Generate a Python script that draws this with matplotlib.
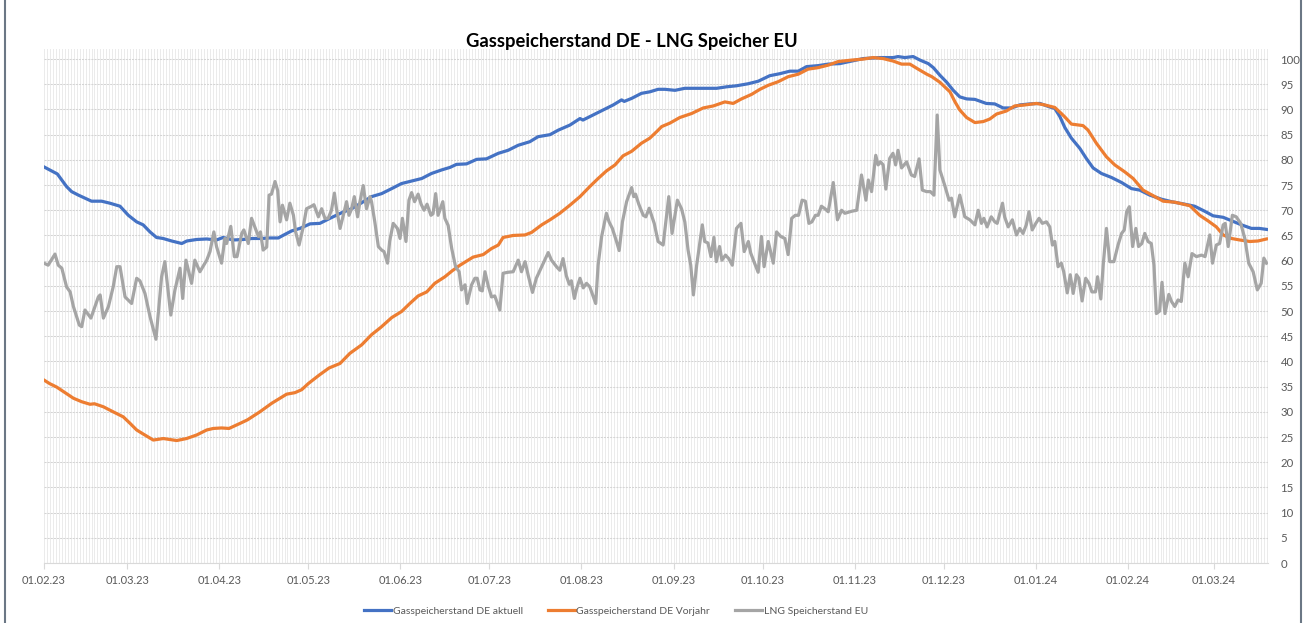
import matplotlib
matplotlib.use('Agg')
import matplotlib.pyplot as plt
import matplotlib.dates as mdates
import pandas as pd
from matplotlib.lines import Line2D

plt.rcParams['font.family'] = ['Lato', 'DejaVu Sans']

# ---------------- data ----------------
start_date = '2023-02-01'
axis_end_day = 412.2

title = 'Gasspeicherstand DE - LNG Speicher EU'
series_names = ['Gasspeicherstand DE aktuell', 'Gasspeicherstand DE Vorjahr', 'LNG Speicherstand EU']
x_tick_labels = ['01.02.23', '01.03.23', '01.04.23', '01.05.23', '01.06.23', '01.07.23', '01.08.23',
                 '01.09.23', '01.10.23', '01.11.23', '01.12.23', '01.01.24', '01.02.24', '01.03.24']
y_ticks = list(range(0, 101, 5))

# Gasspeicherstand DE aktuell (day offset from start, value)
blue_days = [0, 1.9, 4.5, 6, 7.6, 9.3, 11.6, 13.8, 16, 19.4, 22.2, 25.6, 28.4, 31.2, 33.4, 35.7, 37.9, 40.1,
             43, 46.4, 48.1, 51.4, 54.8, 58.1, 60.3, 63.7, 67.1, 70, 73.3, 76, 78.9, 81.1, 83.4, 86.2, 89.6,
             92.9, 96.3, 100.2, 103.6, 107, 110.3, 113.7, 117.1, 120.4, 123.8, 127.2, 130.5, 133.9, 136.7,
             138.9, 142.3, 145.7, 149, 153, 156.3, 159.7, 163.6, 166.4, 170.4, 173.2, 177.1, 180.5, 181.5,
             184.9, 188.3, 191.7, 194.5, 195.4, 197.9, 201.2, 204, 206.8, 209.1, 212.5, 215.8, 222.6, 226.5,
             229.9, 233.2, 237.1, 240.5, 244.4, 247.8, 251.2, 254, 256.8, 260.7, 264.1, 268, 272, 275.9,
             281.5, 286, 287.6, 289.9, 292.7, 295, 297.8, 299.5, 301.7, 304, 306.2, 308.4, 310.7, 313.5,
             317.3, 320.2, 323, 325.8, 328.6, 332, 335.4, 338.7, 340.4, 342.1, 343.8, 346, 348.8, 351,
             353.3, 356.1, 359.5, 362.9, 366.2, 369, 372.4, 376.3, 379.7, 384.2, 387.5, 390.9, 393.7,
             397.1, 400.4, 403.3, 406.6, 409.3, 411.7]
blue_vals = [78.6, 78.0, 77.2, 76.0, 74.7, 73.7, 73.0, 72.4, 71.8, 71.8, 71.4, 70.8, 69.0, 67.7, 67.1, 65.7,
             64.6, 64.4, 63.9, 63.4, 63.9, 64.2, 64.3, 64.1, 64.6, 64.1, 64.2, 64.4, 64.4, 64.5, 64.5, 65.2,
             65.9, 66.4, 67.3, 67.4, 68.4, 69.5, 70.3, 71.5, 72.7, 73.3, 74.3, 75.3, 75.8, 76.3, 77.3, 78.0,
             78.5, 79.1, 79.2, 80.1, 80.2, 81.3, 81.9, 82.9, 83.6, 84.6, 85.0, 85.9, 86.9, 88.2, 87.9, 88.9,
             89.9, 90.9, 91.9, 91.6, 92.2, 93.2, 93.5, 94.0, 94.0, 93.8, 94.2, 94.2, 94.2, 94.5, 94.7, 95.1,
             95.6, 96.7, 97.1, 97.6, 97.6, 98.5, 98.7, 99.0, 99.1, 99.6, 100.1, 100.3, 100.3, 100.5, 100.3,
             100.5, 99.8, 99.1, 98.3, 96.8, 95.4, 93.8, 92.5, 92.1, 92.0, 91.2, 91.1, 90.3, 90.3, 90.9,
             91.1, 91.2, 90.5, 90.2, 88.6, 86.4, 84.3, 82.3, 80.3, 78.4, 77.3, 76.5, 75.5, 74.3, 74.0, 73.0,
             72.2, 71.7, 71.2, 70.8, 69.8, 68.9, 68.6, 67.8, 67.1, 66.4, 66.4, 66.2]

# Gasspeicherstand DE Vorjahr
orange_days = [0, 1.9, 4.3, 7.1, 9.9, 12.7, 15.5, 17, 20, 23.3, 26.7, 29, 31.2, 33.4, 36.8, 40.2, 44.7, 48,
               51.4, 54.8, 57, 59.8, 62.3, 66, 68.5, 72.7, 76.7, 81.7, 84.5, 86.8, 89, 92.7, 96, 99.7, 103,
               107, 110.3, 113.5, 117.1, 120.4, 123.2, 126, 128.9, 131.6, 135, 137.5, 140.1, 144.5, 147.9,
               150.7, 153, 154.6, 158, 162, 164.2, 167.6, 170.4, 173.7, 177.1, 180.5, 183.8, 186.6, 189.4,
               192.3, 195, 197.9, 201.2, 204, 206.5, 208, 210.8, 214.1, 218.1, 222, 225.4, 229.3, 232.1,
               234.9, 238.3, 241.1, 243.9, 247.2, 250.6, 254, 257.3, 260.7, 264.1, 267.4, 272, 275.9, 279.2,
               282.6, 286, 288.8, 291.6, 294.4, 297.3, 299, 301.7, 305.1, 306.8, 308.4, 310.7, 313.5, 316.3,
               318.5, 320.8, 324.1, 326.9, 330.3, 334.2, 337, 340.4, 342.6, 343.8, 346, 349.9, 351.6, 354.4,
               357.8, 360.6, 364, 366.8, 370.1, 373.5, 376.9, 380.8, 385.9, 389.2, 392, 394.8, 397.1, 399.9,
               402.7, 406.1, 408.8, 411.7]
orange_vals = [36.3, 35.6, 34.9, 33.8, 32.7, 32.0, 31.5, 31.6, 31.0, 30.0, 29.0, 27.7, 26.4, 25.6, 24.4, 24.7,
               24.3, 24.7, 25.4, 26.4, 26.7, 26.8, 26.7, 27.7, 28.4, 30.0, 31.7, 33.5, 33.8, 34.4, 35.6, 37.3,
               38.7, 39.6, 41.6, 43.3, 45.3, 46.8, 48.7, 49.9, 51.5, 53.0, 53.8, 55.5, 56.8, 58.0, 59.1, 60.7,
               61.2, 62.4, 63.1, 64.6, 65.0, 65.1, 65.6, 67.1, 68.1, 69.4, 71.0, 72.7, 74.7, 76.3, 77.8, 79.0,
               80.8, 81.7, 83.3, 84.3, 85.7, 86.6, 87.3, 88.4, 89.2, 90.3, 90.7, 91.5, 91.2, 92.1, 93.0, 94.0,
               94.8, 95.5, 96.5, 97.0, 98.0, 98.3, 98.8, 99.5, 99.8, 100.0, 100.3, 100.1, 99.6, 99.0, 99.0,
               98.0, 97.0, 96.5, 95.4, 93.5, 91.5, 89.9, 88.4, 87.4, 87.6, 88.1, 89.1, 89.7, 90.7, 90.9, 91.2,
               90.9, 90.4, 89.2, 88.5, 87.1, 86.8, 85.9, 83.3, 80.6, 79.0, 77.6, 76.3, 74.0, 72.9, 71.8, 71.6,
               70.9, 69.0, 67.9, 66.7, 65.1, 64.4, 64.1, 63.8, 63.9, 64.3]

# LNG Speicherstand EU
gray_days = [0, 1.4, 3.7, 4.8, 6, 7.6, 8.8, 9.9, 11.9, 12.7, 13.8, 15.8, 18.3, 18.9, 20, 21.7, 23.3, 24.5,
             25.6, 27.3, 29.5, 31.2, 32.3, 34, 35.7, 37.7, 39.6, 40.7, 42.7, 44.1, 45.8, 46.7, 47.8, 49.7,
             50.8, 52.5, 54.8, 55.9, 57.2, 58.1, 59.8, 60.9, 61.5, 62.9, 64.1, 65, 66.6, 67.3, 68.8, 69.9,
             71, 72.2, 72.9, 73.8, 75, 75.8, 76.6, 77.8, 78.7, 79.5, 80.3, 81.7, 82.8, 84, 84.7, 85.9, 87.3,
             88.4, 90.1, 90.9, 92.4, 93.5, 94.6, 95.7, 96.8, 97.8, 98.5, 99.7, 100.8, 101.9, 102.7, 103.6,
             104.5, 105.6, 106.4, 107.5, 108.6, 109.8, 110.3, 111.4, 112.6, 113.7, 114.5, 115.7, 116.4,
             117.6, 119, 119.9, 120.7, 121.9, 122.9, 123.8, 124.8, 126, 127, 128, 129, 130.3, 131, 131.9,
             132.7, 134.3, 135, 136.1, 137.3, 138.6, 139.8, 140.6, 141.8, 142.5, 144, 145.1, 145.9, 146.8,
             147.6, 148.5, 149.6, 150.7, 151.8, 153.5, 154.6, 156.3, 158, 159.7, 160.8, 162, 163.1, 164.5,
             165.8, 167.6, 169.8, 170.9, 172.6, 173.7, 174.8, 175.9, 176.9, 177.6, 178.6, 179.4, 180.5,
             181.6, 182.7, 183.8, 185.8, 186.6, 187.8, 189.4, 190.3, 191.4, 192.8, 193.7, 194.8, 196.2,
             197.9, 198.6, 199.2, 200.3, 201.8, 202.7, 203.8, 205.5, 206.8, 208.5, 210.4, 211.5, 213.3,
             214.7, 215.8, 216.9, 217.8, 218.7, 219.8, 221.7, 222.5, 223.6, 224.6, 225.6, 226.4, 227.5,
             228.3, 229.5, 230.6, 231.8, 233.2, 234.7, 235.8, 237.2, 238, 239.1, 240.5, 241.6, 242.5, 243.9,
             245.6, 246.7, 248.1, 249.5, 250.6, 251.8, 253, 254.1, 255.3, 256.4, 257.6, 258.6, 259.8,
             260.7, 261.8, 263, 264.1, 265.8, 267.2, 268.6, 269.7, 272, 273.7, 275.3, 276.8, 277.6, 278.7,
             280.1, 280.9, 281.7, 282.6, 283.5, 284.8, 285.9, 286.8, 287.6, 288.8, 290.5, 292.1, 293.2,
             294.7, 295.8, 297.2, 298.5, 299.7, 300.8, 301.7, 303.3, 304.8, 305.6, 306.7, 308.4, 310.1,
             311.8, 313.5, 314.6, 315.7, 316.5, 317.6, 319, 320.2, 321, 322.8, 323.5, 324.7, 326.1, 327.5,
             328.6, 329.7, 330.8, 331.7, 332.8, 334, 335.1, 336.2, 337.6, 338.7, 339.6, 340.4, 341.5,
             342.6, 343.4, 344.6, 345.6, 346.6, 347.7, 348.5, 349.6, 350.8, 351.9, 352.9, 354.1, 354.8,
             355.9, 356.7, 357.8, 358.9, 360.3, 361.7, 362.9, 363.8, 364.6, 365.5, 366.6, 367.7, 368.6,
             369.7, 370.7, 371.8, 372.9, 373.8, 374.6, 375.7, 376.5, 377.5, 378.8, 379.7, 380.8, 381.9,
             383, 384.2, 385.3, 386.6, 388.1, 389.8, 391, 392.6, 393.5, 394.8, 395.9, 397.1, 397.8, 398.8,
             400.2, 401.5, 403, 404.4, 405.7, 407.2, 408.6, 409.9, 410.8, 411.7]
gray_vals = [59.5, 59.1, 61.3, 59.1, 58.5, 54.8, 53.8, 50.9, 47.2, 46.9, 50.2, 48.6, 52.8, 53.2, 48.6, 50.9,
             54.8, 58.8, 58.8, 52.8, 51.5, 56.5, 56.0, 53.5, 48.9, 44.4, 56.8, 59.8, 49.2, 54.2, 58.5, 52.5,
             60.1, 55.5, 60.1, 57.8, 60.1, 61.8, 65.7, 62.8, 59.5, 64.4, 63.4, 66.8, 60.8, 60.8, 65.4, 66.1,
             63.4, 68.4, 66.7, 64.8, 65.7, 62.1, 62.7, 73.0, 73.2, 75.7, 73.9, 67.7, 71.0, 68.1, 71.4, 69.0,
             65.8, 63.1, 66.7, 70.3, 70.8, 71.1, 68.7, 70.3, 68.4, 68.4, 70.0, 73.4, 70.3, 66.4, 69.0, 71.7,
             69.0, 70.3, 72.7, 68.7, 71.7, 74.9, 70.3, 72.7, 71.7, 67.7, 62.8, 62.1, 61.8, 59.5, 63.8, 67.4,
             66.4, 64.4, 68.4, 63.8, 72.0, 73.5, 71.7, 73.2, 71.2, 70.0, 71.2, 69.0, 69.3, 73.3, 69.0, 71.7,
             68.4, 67.0, 62.4, 58.8, 57.8, 54.2, 55.2, 51.5, 55.2, 56.5, 56.5, 54.2, 54.0, 57.8, 55.0, 52.8,
             53.0, 50.2, 57.5, 57.7, 57.8, 60.1, 57.8, 59.8, 57.0, 53.7, 56.5, 58.8, 61.6, 60.1, 58.8, 58.1,
             60.4, 57.0, 55.3, 56.0, 52.5, 54.5, 56.5, 54.6, 55.5, 54.8, 51.5, 59.1, 64.8, 69.4, 67.7, 66.4,
             63.8, 62.0, 67.7, 71.7, 74.5, 72.7, 73.2, 71.2, 69.0, 68.7, 70.4, 67.4, 63.8, 63.1, 72.7, 65.4,
             72.0, 70.3, 67.7, 62.1, 59.1, 53.2, 59.1, 67.1, 63.8, 63.5, 60.8, 64.6, 59.8, 62.8, 60.1, 61.1,
             60.4, 59.1, 66.4, 67.4, 61.8, 63.8, 61.5, 59.8, 57.7, 64.8, 58.8, 63.8, 59.5, 65.7, 64.8, 64.4,
             61.2, 68.4, 69.0, 69.0, 72.0, 71.8, 67.4, 67.7, 69.0, 69.0, 70.8, 70.3, 69.7, 75.5, 68.1, 70.0,
             69.4, 69.8, 70.0, 77.0, 72.0, 76.0, 73.7, 80.9, 79.0, 79.6, 79.0, 74.2, 80.3, 81.3, 79.0, 81.9,
             78.4, 79.6, 77.0, 76.7, 80.2, 74.0, 73.7, 73.7, 73.0, 88.9, 78.0, 75.0, 72.0, 72.4, 68.7, 73.0,
             68.7, 68.1, 67.1, 70.0, 67.4, 68.4, 66.7, 68.7, 67.7, 67.4, 71.4, 68.7, 66.7, 68.1, 65.1, 66.4,
             65.4, 67.1, 69.7, 66.1, 67.4, 68.4, 67.4, 67.7, 66.7, 63.1, 63.8, 58.8, 59.5, 57.8, 53.6, 57.2,
             53.5, 57.2, 56.5, 52.0, 56.5, 55.5, 53.8, 53.8, 56.8, 52.4, 59.1, 66.4, 59.8, 59.8, 63.1, 65.4,
             66.1, 69.7, 70.7, 62.8, 66.4, 62.8, 63.4, 65.4, 63.8, 63.4, 59.1, 49.5, 50.0, 55.7, 49.5, 53.3,
             51.9, 50.9, 52.2, 51.9, 59.5, 56.8, 61.4, 60.8, 61.1, 60.8, 65.1, 59.5, 63.1, 63.4, 67.1, 67.4,
             62.8, 69.0, 68.7, 67.4, 64.4, 59.5, 57.8, 54.2, 55.5, 60.5, 59.5]

# ---------------- drawing ----------------
t0 = pd.Timestamp(start_date)
def to_dates(days):
    return t0 + pd.to_timedelta(days, unit='D')

W, H = 1306, 623
fig = plt.figure(figsize=(W / 100, H / 100), dpi=100)
ax_l, ax_r, ax_t, ax_b = 44, 1268, 49, 563
ax = fig.add_axes([ax_l / W, 1 - ax_b / H, (ax_r - ax_l) / W, (ax_b - ax_t) / H])

colors = ['#4472C4', '#ED7D31', '#A5A5A5']
lw = 2.3
ax.plot(to_dates(blue_days), blue_vals, color=colors[0], lw=lw, solid_joinstyle='round', zorder=3)
ax.plot(to_dates(orange_days), orange_vals, color=colors[1], lw=lw, solid_joinstyle='round', zorder=4)
ax.plot(to_dates(gray_days), gray_vals, color=colors[2], lw=lw, solid_joinstyle='round', zorder=5)

ax.set_xlim(t0, t0 + pd.Timedelta(days=axis_end_day))
ax.set_ylim(0, 102)

# x axis
tick_dates = pd.to_datetime(x_tick_labels, format='%d.%m.%y')
ax.set_xticks(tick_dates)
ax.set_xticklabels(x_tick_labels)
ax.xaxis.set_minor_locator(mdates.DayLocator())
ax.tick_params(axis='x', which='major', length=4, width=0.8, color='#d9d9d9',
               labelsize=8, labelcolor='#595959', pad=5)
ax.tick_params(axis='x', which='minor', length=0)
ax.grid(which='minor', axis='x', color='#ebebeb', lw=0.7, zorder=0)
ax.grid(which='major', axis='x', color='#ebebeb', lw=0.7, zorder=0)

# y axis on the right
ax.yaxis.tick_right()
ax.set_yticks(y_ticks)
ax.set_yticklabels([str(v) for v in y_ticks])
ax.tick_params(axis='y', length=0, labelsize=8.2, labelcolor='#595959', pad=9)
ax.grid(which='major', axis='y', color='#d4d4d4', lw=0.75, ls=(0, (2, 1)), zorder=1)

for s in ['left', 'right', 'top']:
    ax.spines[s].set_visible(False)
ax.spines['bottom'].set_color('#d9d9d9')
ax.spines['bottom'].set_linewidth(0.8)
ax.set_axisbelow(True)

# title
fig.text(632 / W, 1 - 41.5 / H, title, ha='center', va='center', fontsize=13.2,
         fontweight='bold', color='#000000')

# legend
handles = [Line2D([], [], color=c, lw=lw) for c in colors]
fig.legend(handles, series_names, loc='center', bbox_to_anchor=(616 / W, 1 - 611.5 / H),
           ncol=3, frameon=False, fontsize=7.5, labelcolor='#595959', handlelength=2.6,
           handletextpad=0.15, columnspacing=2.4)

# chart border (left and right edges)
fig.add_artist(Line2D([5 / W, 5 / W], [0, 1], color='#6b7785', lw=1.5))
fig.add_artist(Line2D([1301 / W, 1301 / W], [0, 1], color='#6b7785', lw=1.5))

fig.savefig('out.png', dpi=100)
